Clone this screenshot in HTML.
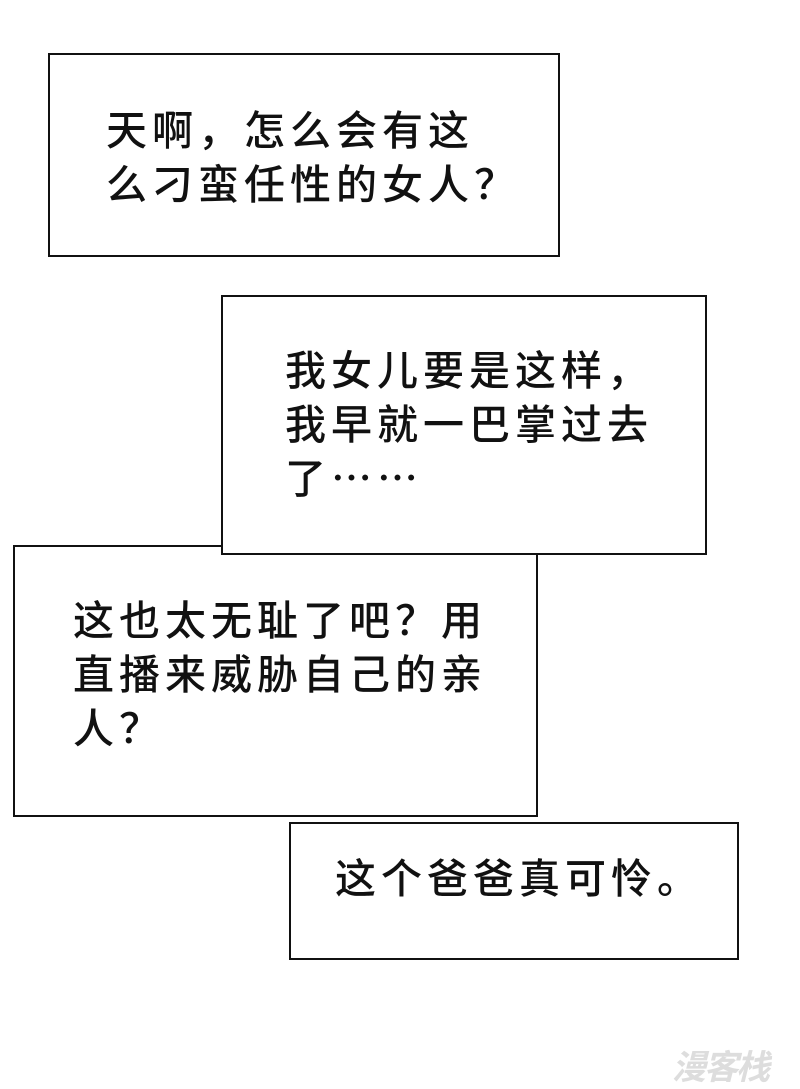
<!DOCTYPE html>
<html><head><meta charset="utf-8"><style>
body{margin:0;width:800px;height:1085px;background:#fff;position:relative;overflow:hidden}
.b{position:absolute;border:2px solid #111;background:#fff;box-sizing:border-box}
.t{position:absolute;font-family:"Noto Sans CJK SC","WenQuanYi Zen Hei",sans-serif;font-weight:500;font-size:41px;letter-spacing:5px;line-height:54px;color:#111;white-space:nowrap}
</style></head><body>
<div class="b" style="left:48px;top:53px;width:512px;height:204px"></div>
<div class="t" style="left:106px;top:100px">天啊，怎么会有这<br>么刁蛮任性的女人？</div>
<div class="b" style="left:13px;top:545px;width:525px;height:272px"></div>
<div class="t" style="left:73px;top:590px">这也太无耻了吧？用<br>直播来威胁自己的亲<br>人？</div>
<div class="b" style="left:221px;top:295px;width:486px;height:260px"></div>
<div class="t" style="left:285px;top:340px">我女儿要是这样，<br>我早就一巴掌过去<br>了……</div>
<div class="b" style="left:289px;top:822px;width:450px;height:138px"></div>
<div class="t" style="left:335px;top:848px">这个爸爸真可怜。</div>
<div style="position:absolute;left:672px;top:1040px;font-family:'Noto Sans CJK SC',sans-serif;font-size:34px;font-weight:bold;color:#ddd;letter-spacing:-2px;font-style:italic">漫客栈</div>
</body></html>
